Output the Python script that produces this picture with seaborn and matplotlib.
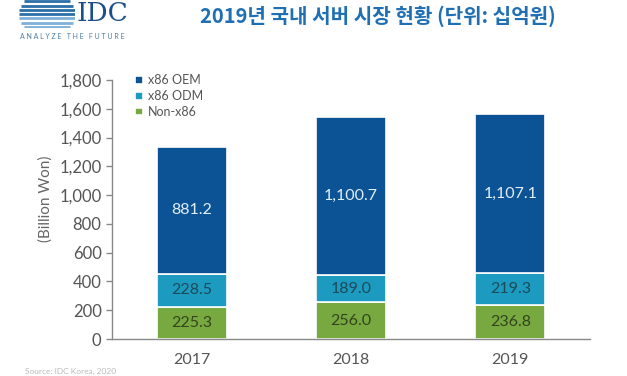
import matplotlib
matplotlib.use('Agg')
import matplotlib.pyplot as plt
import seaborn as sns
import pandas as pd
import numpy as np

years = ['2017', '2018', '2019']
non_x86 = [225.3, 256.0, 236.8]
x86_odm = [228.5, 189.0, 219.3]
x86_oem = [881.2, 1100.7, 1107.1]
series_names = ['x86 OEM', 'x86 ODM', 'Non-x86']
yticks = [0, 200, 400, 600, 800, 1000, 1200, 1400, 1600, 1800]

colors = {'x86 OEM': '#0b5394', 'x86 ODM': '#1c9ac0', 'Non-x86': '#78a940'}
label_colors = {'x86 OEM': '#e4eef6', 'x86 ODM': '#1d4a58', 'Non-x86': '#33441c'}

df = pd.DataFrame({'year': years, 'Non-x86': non_x86, 'x86 ODM': x86_odm, 'x86 OEM': x86_oem})

sns.set_style('white')
plt.rcParams['font.family'] = ['Lato', 'DejaVu Sans']

fig = plt.figure(figsize=(6.27, 3.76), dpi=100)
ax = fig.add_axes([0.1786, 0.0984, 0.7624, 0.6888])

bottom = np.zeros(len(years))
for name in ['Non-x86', 'x86 ODM', 'x86 OEM']:
    vals = df[name].values
    sns.barplot(data=df, x='year', y=name, color=colors[name], bottom=bottom,
                width=0.44, edgecolor='white', linewidth=1.2, saturation=1,
                ax=ax, label=name)
    for i, v in enumerate(vals):
        ax.text(i, bottom[i] + v / 2, f'{v:,.1f}', ha='center', va='center',
                fontsize=11.5, color=label_colors[name])
    bottom = bottom + vals

ax.set_ylim(0, 1800)
ax.set_xlim(-0.5, 2.5)
ax.set_yticks(yticks)
ax.set_yticklabels([f'{t:,}' for t in yticks])
ax.set_xticks(range(len(years)))
ax.set_xticklabels(years)
ax.set_xticks([-0.5, 0.5, 1.5, 2.5], minor=True)
ax.tick_params(axis='x', which='major', length=0, pad=10, labelsize=11.5, labelcolor='#555555')
ax.tick_params(axis='x', which='minor', length=5, width=1, color='#888888', direction='out')
ax.tick_params(axis='y', length=4, width=1, color='#888888', labelsize=12,
               labelcolor='#555555', direction='out', left=True)
ax.set_xlabel('')
ax.set_ylabel('(Billion Won)', fontsize=11, color='#666666', labelpad=6)
ax.yaxis.set_label_coords(-0.125, 0.54)
for s in ['top', 'right']:
    ax.spines[s].set_visible(False)
for s in ['left', 'bottom']:
    ax.spines[s].set_color('#888888')
    ax.spines[s].set_linewidth(1)

h, l = ax.get_legend_handles_labels()
order = [l.index(n) for n in series_names]
ax.legend([h[i] for i in order], [l[i] for i in order], loc='upper left',
          bbox_to_anchor=(0.025, 1.065), frameon=False, fontsize=9,
          handlelength=0.6, handleheight=0.6, handletextpad=0.4,
          labelspacing=0.3, labelcolor='#555555')

# title
fig.text(0.603, 0.957, '2019년 국내 서버 시장 현황 (단위: 십억원)', ha='center', va='center',
         fontsize=14.5, fontweight='bold', color='#1f6fb4',
         family=['Noto Sans CJK KR', 'DejaVu Sans'])

# IDC logo
logo = fig.add_axes([0.03, 0.925, 0.09, 0.075])
logo.set_xlim(0, 1)
logo.set_ylim(0, 1)
logo.axis('off')
for k, y in enumerate(np.linspace(0.05, 0.95, 7)):
    w = 0.35 + 0.15 * np.sin(np.pi * (k + 1) / 8)
    logo.hlines(y, 0.5 - w, 0.5 + w, color='#2c6fa8' if k > 2 else '#7fb0d8', lw=2)
fig.text(0.122, 0.998, 'IDC', ha='left', va='top', fontsize=19, color='#1b4f8a',
         family='DejaVu Serif')
fig.text(0.032, 0.902, 'A N A L Y Z E   T H E   F U T U R E', ha='left', va='center',
         fontsize=5, color='#4d7ea8')

fig.text(0.04, 0.012, 'Source: IDC Korea, 2020', ha='left', va='center',
         fontsize=6, color='#bbbbbb')

fig.savefig('out.png', dpi=100)
